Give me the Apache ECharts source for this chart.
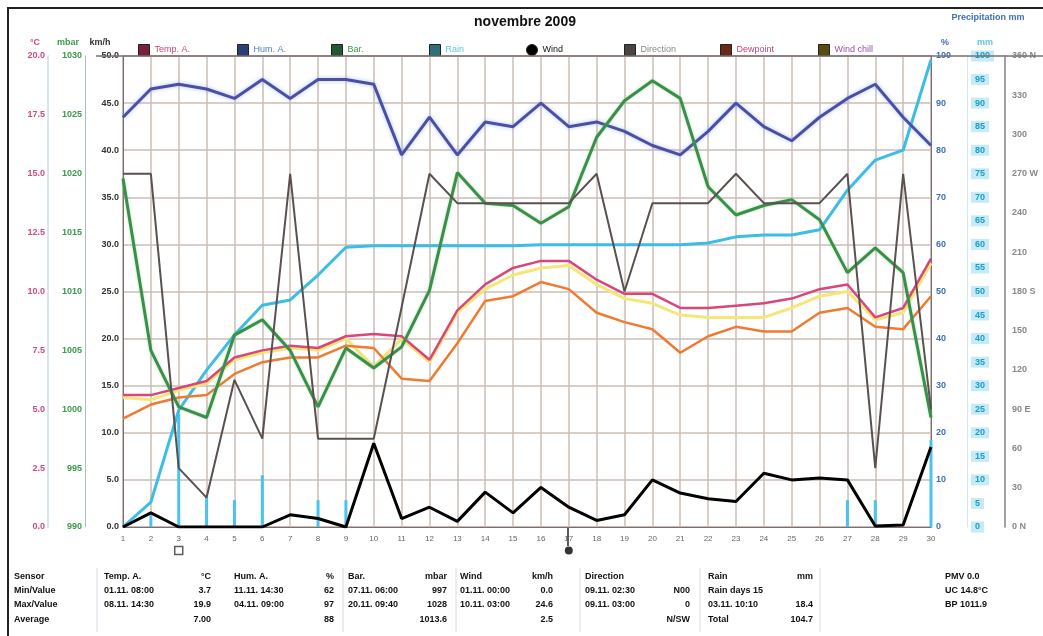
<!DOCTYPE html>
<html><head><meta charset="utf-8">
<script src="https://cdn.jsdelivr.net/npm/echarts@6/dist/echarts.min.js"></script>
<style>html,body{margin:0;padding:0;background:#fff}#c{width:1043px;height:636px}</style>
</head><body><div id="c"></div>
<script>
// ---------------- data ----------------
const days = ['1','2','3','4','5','6','7','8','9','10','11','12','13','14','15','16','17','18','19','20','21','22','23','24','25','26','27','28','29','30'];
const temperature = [5.6,5.6,5.9,6.2,7.2,7.5,7.7,7.6,8.1,8.2,8.1,7.1,9.2,10.3,11.0,11.3,11.3,10.5,9.9,9.9,9.3,9.3,9.4,9.5,9.7,10.1,10.3,8.9,9.3,11.4];
const dewpoint = [4.6,5.2,5.5,5.6,6.5,7.0,7.2,7.2,7.7,7.6,6.3,6.2,7.8,9.6,9.8,10.4,10.1,9.1,8.7,8.4,7.4,8.1,8.5,8.3,8.3,9.1,9.3,8.5,8.4,9.8];
const windChill = [5.5,5.4,5.8,6.1,7.1,7.4,7.6,7.5,8.0,6.8,8.0,7.0,9.1,10.1,10.7,11.0,11.1,10.3,9.7,9.5,9.0,8.9,8.9,8.9,9.3,9.8,10.0,8.8,9.1,11.2];
const humidity = [87,93,94,93,91,95,91,95,95,94,79,87,79,86,85,90,85,86,84,81,79,84,90,85,82,87,91,94,87,81];
const pressure = [1019.6,1005.0,1000.2,999.3,1006.3,1007.6,1005.0,1000.2,1005.2,1003.5,1005.3,1010.1,1020.1,1017.5,1017.3,1015.8,1017.2,1023.1,1026.2,1027.9,1026.4,1018.9,1016.5,1017.3,1017.8,1016.1,1011.6,1013.7,1011.6,999.3];
const direction = [270,270,45,22.5,112.5,67.5,270,67.5,67.5,67.5,168,270,247.5,247.5,247.5,247.5,247.5,270,180,247.5,247.5,247.5,270,247.5,247.5,247.5,270,45,270,90];
const wind = [0,1.5,0,0,0,0,1.3,0.9,0,8.9,0.9,2.1,0.6,3.7,1.5,4.2,2.1,0.7,1.3,5.0,3.6,3.0,2.7,5.7,5.0,5.2,5.0,0.1,0.2,8.5];
const rainTotal = [0,5.3,24.8,33.3,40.8,47.1,48.2,53.5,59.4,59.7,59.7,59.7,59.7,59.7,59.7,59.9,59.9,59.9,59.9,59.9,59.9,60.3,61.6,62.0,62.0,63.1,71.5,77.9,80.0,99.2];
const rainDaily = [0,2.5,24,6.4,5.7,11,0,5.7,5.7,0,0,0,0,0,0,0,0,0,0,0,0,0,0,0,0,0,5.7,5.7,0,18.5];
const markerSquareDay = '3';
const markerDotDay = '17';

const title = 'novembre 2009';
const seriesNames = ['Temp. A.','Hum. A.','Bar.','Rain','Wind','Direction','Dewpoint','Wind chill'];
const tableLabels = ['Sensor','Min/Value','Max/Value','Average'];
const tableCols = [
  {head:'Temp. A.', unit:'°C',   min:['01.11. 08:00','3.7'],  max:['08.11. 14:30','19.9'], avg:['','7.00']},
  {head:'Hum. A.',  unit:'%',    min:['11.11. 14:30','62'],   max:['04.11. 09:00','97'],   avg:['','88']},
  {head:'Bar.',     unit:'mbar', min:['07.11. 06:00','997'],  max:['20.11. 09:40','1028'], avg:['','1013.6']},
  {head:'Wind',     unit:'km/h', min:['01.11. 00:00','0.0'],  max:['10.11. 03:00','24.6'], avg:['','2.5']},
  {head:'Direction',unit:'',     min:['09.11. 02:30','N00'],  max:['09.11. 03:00','0'],    avg:['','N/SW']},
  {head:'Rain',     unit:'mm',   min:['Rain days 15',''],     max:['03.11. 10:10','18.4'], avg:['Total','104.7']}
];
const sideInfo = ['PMV 0.0','UC 14.8°C','BP 1011.9'];
const dirNames = {0:'0 N',90:'90 E',180:'180 S',270:'270 W',360:'360 N'};

// ---------------- chart ----------------
const FONT = 'Liberation Sans, Arial, sans-serif';
const chart = echarts.init(document.getElementById('c'), null, {renderer:'canvas'});

const legendStyle = [
  {x:133, box:'#7a1f3d', text:'#d0457a'},
  {x:232, box:'#2d3f78', text:'#4f7fc4'},
  {x:326, box:'#1f5a30', text:'#3c9a4c'},
  {x:424, box:'#2f6f78', text:'#5cc6e6'},
  {x:521, box:'#000000', text:'#111111', icon:'circle'},
  {x:619, box:'#4a4444', text:'#8a8a8a'},
  {x:715, box:'#6a2a1a', text:'#c8407a'},
  {x:813, box:'#5a4a10', text:'#9a4fb0'}
];
const legends = seriesNames.map((n,i)=>({
  left: legendStyle[i].x, top: 39, orient:'horizontal', selectedMode:false,
  itemWidth: 11, itemHeight: 11, itemGap: 4,
  icon: legendStyle[i].icon || 'rect',
  textStyle:{fontSize:9, fontFamily:FONT, color:legendStyle[i].text},
  data:[{name:n, itemStyle:{color:legendStyle[i].box, borderColor:'#222', borderWidth:1}}]
}));

const gridLine = {show:true, lineStyle:{color:'#cbbcb4', width:1.5}};
const lblBase = {fontSize:9, fontWeight:'bold', fontFamily:FONT};

const option = {
  backgroundColor:'#ffffff',
  animation:false,
  legend: legends,
  grid:{left:123, right:112, top:56, bottom:109, show:true, borderColor:'#7a7070', borderWidth:1, backgroundColor:'#ffffff'},
  xAxis:{type:'category', data:days, boundaryGap:false,
    axisLine:{show:true, lineStyle:{color:'#7a7070'}}, axisTick:{show:false},
    axisLabel:{fontSize:8, color:'#666', fontFamily:FONT, margin:8, interval:0},
    splitLine:gridLine},
  yAxis:[
    {type:'value', position:'left', offset:75, min:0, max:20, interval:2.5,
     axisLine:{show:true, lineStyle:{color:'#d6e6f0', width:2}}, axisTick:{show:false},
     axisLabel:Object.assign({color:'#d04a86', margin:3, formatter:v=>v.toFixed(1)}, lblBase),
     splitLine:{show:false}},
    {type:'value', position:'left', offset:38, min:990, max:1030, interval:5,
     axisLine:{show:true, lineStyle:{color:'#a9bccb', width:1}}, axisTick:{show:false},
     axisLabel:Object.assign({color:'#3c9a4c', margin:3, formatter:v=>String(v)}, lblBase),
     splitLine:{show:false}},
    {type:'value', position:'left', offset:0, min:0, max:50, interval:5,
     axisLine:{show:true, lineStyle:{color:'#7a7070'}}, axisTick:{show:false},
     axisLabel:Object.assign({color:'#333', margin:4, formatter:v=>v.toFixed(1)}, lblBase),
     splitLine:gridLine},
    {type:'value', position:'right', offset:0, min:0, max:100, interval:10,
     axisLine:{show:true, lineStyle:{color:'#7a7070'}}, axisTick:{show:false},
     axisLabel:Object.assign({color:'#3f6fb5', margin:5}, lblBase),
     splitLine:{show:false}},
    {type:'value', position:'right', offset:36, min:0, max:100, interval:5,
     axisLine:{show:true, lineStyle:{color:'#cfeaf3'}}, axisTick:{show:false},
     axisLabel:Object.assign({color:'#1e9cc8', margin:4, backgroundColor:'#c4ebf6', padding:[1,4]}, lblBase),
     splitLine:{show:false}},
    {type:'value', position:'right', offset:74, min:0, max:360, interval:30,
     axisLine:{show:true, lineStyle:{color:'#8a8080', width:1.5}}, axisTick:{show:false},
     axisLabel:Object.assign({color:'#888', margin:7, formatter:v=>dirNames[v]!==undefined?dirNames[v]:String(v)}, lblBase),
     splitLine:{show:false}}
  ],
  series:[
    {name:'Rain', type:'bar', yAxisIndex:4, data:rainDaily, barWidth:3, itemStyle:{color:'#4cc3ea'}, z:2},
    {name:'Rain', type:'line', yAxisIndex:4, data:rainTotal, symbol:'none', lineStyle:{color:'#3bbde6', width:3}, z:3},
    {name:'Wind chill', type:'line', yAxisIndex:0, data:windChill, symbol:'none', lineStyle:{color:'#f5e67a', width:3}, z:4},
    {name:'Dewpoint', type:'line', yAxisIndex:0, data:dewpoint, symbol:'none', lineStyle:{color:'#f07a30', width:2.5}, z:5},
    {name:'Temp. A.', type:'line', yAxisIndex:0, data:temperature, symbol:'none', lineStyle:{color:'#d9467a', width:2.5}, z:6},
    {name:'Hum. A.', type:'line', yAxisIndex:3, data:humidity, symbol:'none', lineStyle:{color:'#4f4ea4', width:3, shadowColor:'rgba(110,170,255,0.6)', shadowBlur:4}, z:6},
    {name:'Bar.', type:'line', yAxisIndex:1, data:pressure, symbol:'none', lineStyle:{color:'#3a8f4a', width:3, shadowColor:'rgba(120,200,120,0.5)', shadowBlur:3}, z:7},
    {name:'Direction', type:'line', yAxisIndex:5, data:direction, symbol:'none', lineStyle:{color:'#5a5050', width:2}, z:8},
    {name:'Wind', type:'line', yAxisIndex:2, data:wind, symbol:'none', lineStyle:{color:'#000', width:3}, z:9},
    {name:'markers', type:'scatter', yAxisIndex:4, clip:false, silent:true,
     data:[{value:[markerSquareDay,-5], symbol:'rect', symbolSize:8, itemStyle:{color:'#fff', borderColor:'#333', borderWidth:1.5}},
           {value:[markerDotDay,-5], symbol:'circle', symbolSize:8, itemStyle:{color:'#000'}}], z:10}
  ],
  graphic:[]
};

const g = option.graphic;
g.push({type:'rect', shape:{x:8, y:8, width:1040, height:640}, style:{fill:'none', stroke:'#222', lineWidth:2}, z:100});
g.push({type:'line', shape:{x1:96, y1:56, x2:1043, y2:56}, style:{stroke:'#7a7070', lineWidth:1.5}, z:50});
g.push({type:'text', x:525, y:22, style:{text:title, font:'bold 14px '+FONT, fill:'#111', textAlign:'center', textVerticalAlign:'middle'}});
g.push({type:'text', x:35, y:43, style:{text:'°C', font:'bold 9px '+FONT, fill:'#d04a86', textAlign:'center', textVerticalAlign:'middle'}});
g.push({type:'text', x:68, y:43, style:{text:'mbar', font:'bold 9px '+FONT, fill:'#3c9a4c', textAlign:'center', textVerticalAlign:'middle'}});
g.push({type:'text', x:100, y:43, style:{text:'km/h', font:'bold 9px '+FONT, fill:'#333', textAlign:'center', textVerticalAlign:'middle'}});
g.push({type:'text', x:988, y:18, style:{text:'Precipitation mm', font:'bold 9px '+FONT, fill:'#3f6fb5', textAlign:'center', textVerticalAlign:'middle'}});
g.push({type:'text', x:945, y:43, style:{text:'%', font:'bold 9px '+FONT, fill:'#3f6fb5', textAlign:'center', textVerticalAlign:'middle'}});
g.push({type:'text', x:985, y:43, style:{text:'mm', font:'bold 9px '+FONT, fill:'#5cc6e6', textAlign:'center', textVerticalAlign:'middle'}});
g.push({type:'line', shape:{x1:568, y1:528, x2:568, y2:546}, style:{stroke:'#222', lineWidth:1.5}});

// table
const rowsY = [577,591,605,620];
tableLabels.forEach((t,i)=>g.push({type:'text', x:14, y:rowsY[i], style:{text:t, font:'bold 9px '+FONT, fill:'#111', textVerticalAlign:'middle'}}));
const colX = [[104,211],[234,334],[348,447],[460,553],[585,690],[708,813]];
tableCols.forEach((c,i)=>{
  const [xl,xr] = colX[i];
  const put=(t,x,y,al)=>{ if(t) g.push({type:'text', x:x, y:y, style:{text:t, font:'bold 9px '+FONT, fill:'#111', textAlign:al, textVerticalAlign:'middle'}}); };
  put(c.head, xl, rowsY[0], 'left'); put(c.unit, xr, rowsY[0], 'right');
  put(c.min[0], xl, rowsY[1], 'left'); put(c.min[1], xr, rowsY[1], 'right');
  put(c.max[0], xl, rowsY[2], 'left'); put(c.max[1], xr, rowsY[2], 'right');
  put(c.avg[0], xl, rowsY[3], 'left'); put(c.avg[1], xr, rowsY[3], 'right');
});
[97,343,456,580,700,820].forEach(x=>g.push({type:'line', shape:{x1:x, y1:568, x2:x, y2:632}, style:{stroke:'#d8d8e4', lineWidth:1}}));
sideInfo.forEach((t,i)=>g.push({type:'text', x:945, y:rowsY[i], style:{text:t, font:'bold 9px '+FONT, fill:'#111', textVerticalAlign:'middle'}}));

chart.setOption(option);
</script></body></html>
